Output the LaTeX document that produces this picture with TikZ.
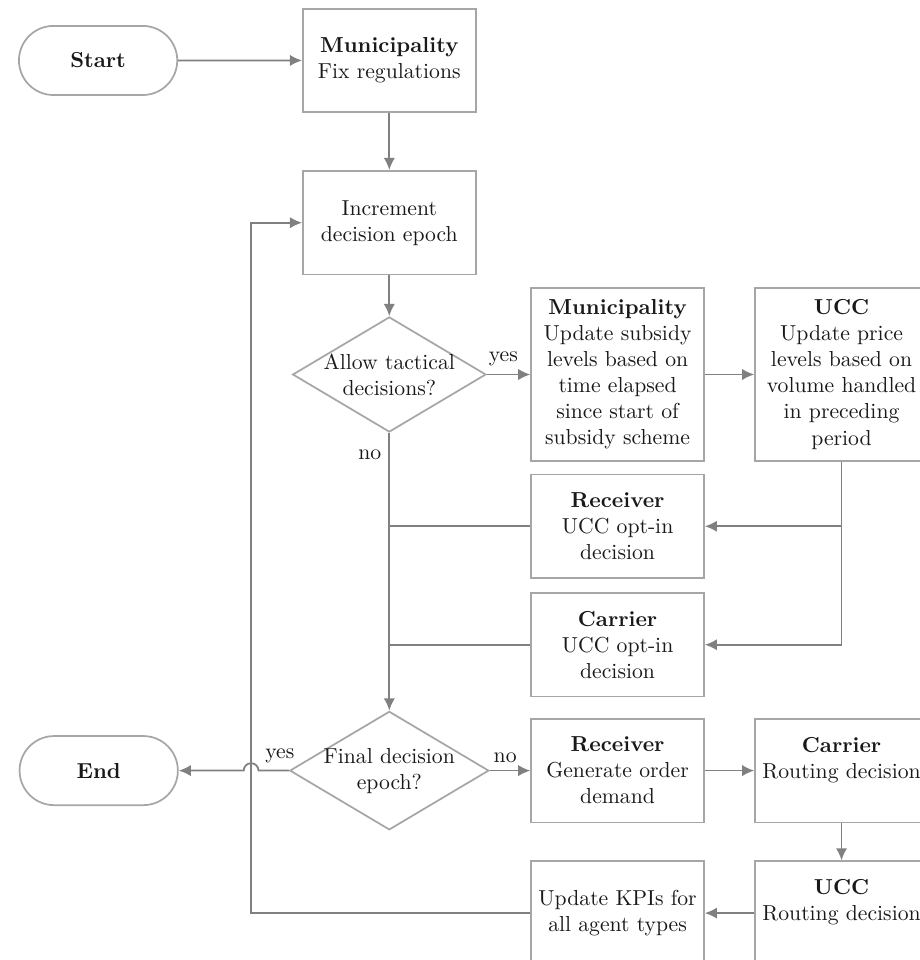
\documentclass[tikz,border=0pt]{standalone}
\usepackage{amssymb, amsmath}
\usepackage{tikz}
\usetikzlibrary{arrows,arrows.meta,positioning,shapes.geometric,shapes.misc}

\begin{document}
\begin{tikzpicture}[box/.style={shape=rectangle,draw=black!35,text=black!90,align=center,minimum width=2.8cm,minimum height=1.68cm,inner sep=2pt}, tallbox/.style={box,minimum height=2.8cm}, terminal/.style={shape=rounded rectangle,draw=black!35,text=black!90,minimum width=2.8cm,minimum height=1.12cm}, decision/.style={shape=diamond,draw=black!35,text=black!90,align=center,shape aspect=1.68,inner sep=-0.7pt}, flow/.style={draw=black!50,->}, merge/.style={draw=black!50}, lbl/.style={text=black!90}, >={Latex[length=5.6pt,width=5.2pt]}, thick, scale=1]
				\useasboundingbox (0,0) rectangle (14.91,-15.56);
				\clip (0,0) rectangle (14.91,-15.56);
				\node[terminal] (start) at (1.59,-0.98) {\textbf{Start}};
				\node[box] (fix) at (6.31,-0.98) {\textbf{Municipality}\\Fix regulations};
				\node[box] (inc) at (6.31,-3.61) {Increment\\decision epoch};
				\node[decision] (d1) at (6.31,-6.07) {Allow tactical\\decisions?};
				\node[tallbox] (mup) at (10.01,-6.07) {\textbf{Municipality}\\Update subsidy\\levels based on\\time elapsed\\since start of\\subsidy scheme};
				\node[tallbox] (ucu) at (13.64,-6.07) {\textbf{UCC}\\Update price\\levels based on\\volume handled\\in preceding\\period};
				\node[box] (rop) at (10.01,-8.53) {\textbf{Receiver}\\UCC opt-in\\decision};
				\node[box] (cop) at (10.01,-10.45) {\textbf{Carrier}\\UCC opt-in\\decision};
				\node[decision] (d2) at (6.31,-12.49) {Final decision\\epoch?};
				\node[terminal] (finish) at (1.60,-12.49) {\textbf{End}};
				\node[box] (rgd) at (10.01,-12.49) {\textbf{Receiver}\\Generate order\\demand};
				\node[box] (crt) at (13.64,-12.49) {\textbf{Carrier}\\Routing decision\\~};
				\node[box] (urt) at (13.64,-14.80) {\textbf{UCC}\\Routing decision\\~};
				\node[box] (kpi) at (10.01,-14.80) {Update KPIs for\\all agent types};
				\coordinate (loop) at (4.07,-3.61);
				\draw[flow] (start) to (fix);
				\draw[flow] (fix) to (inc);
				\draw[flow] (inc) to (d1);
				\draw[flow] (d1) -- node[lbl,above,pos=0.38] {yes} (mup);
				\draw[flow] (mup) to (ucu);
				\draw[flow] (ucu.south) |- (rop.east);
				\draw[flow] (ucu.south) |- (cop.east);
				\draw[merge] (rop.west) -- (rop.west -| d1.south);
				\draw[merge] (cop.west) -- (cop.west -| d1.south);
				\draw[flow] (d1.south) -- node[lbl,left,pos=0.08] {no} (d2.north);
				\draw[flow] (d2) -- node[lbl,above,pos=0.38] {no} (rgd);
				\draw[flow] (rgd) to (crt);
				\draw[flow] (crt) to (urt);
				\draw[flow] (urt) to (kpi);
				\draw[flow] (kpi.west) -- (kpi.west -| loop) |- (inc.west);
				\draw[flow] (d2.west) -- node[lbl,above,pos=0.3] {yes} ([xshift=0.12cm]d2.west -| loop) arc[start angle=0,end angle=180,radius=0.12cm] -- (finish.east);
			\end{tikzpicture}
\end{document}
